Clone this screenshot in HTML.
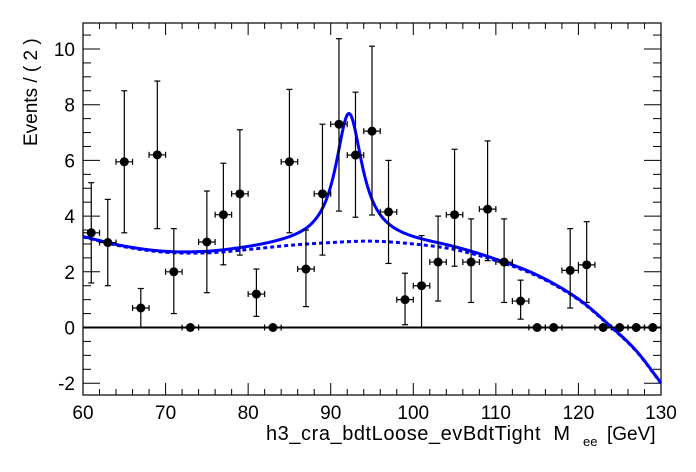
<!DOCTYPE html>
<html><head><meta charset="utf-8"><style>
html,body{margin:0;padding:0;background:#fff;}
svg{display:block;font-family:"Liberation Sans",Arial,sans-serif;}
</style></head><body>
<svg id="s" width="696" height="472" xmlns="http://www.w3.org/2000/svg">
<rect width="696" height="472" fill="#fff"/>
<g id="g"></g>
<text x="0" y="0" font-size="19" transform="translate(37,146) rotate(-90)">Events / ( 2 )</text>
<text x="266" y="440" font-size="20" textLength="304" lengthAdjust="spacing">h3_cra_bdtLoose_evBdtTight&#160;&#160;M</text>
<text x="583" y="446" font-size="13">ee</text>
<text x="607" y="440" font-size="19">[GeV]</text>
</svg>
<script>
var L=83,R=661,T=23,B=395;
function X(v){return L+(v-60)*(R-L)/70;}
function Y(v){return 327.5-v*27.85;}
var h='';
h+='<rect x="'+L+'" y="'+T+'" width="'+(R-L)+'" height="'+(B-T)+'" fill="none" stroke="#000" stroke-width="1.2"/>';
for(var v=60;v<=130;v+=2){var maj=(v%10==0);var l=maj?12:6;
h+='<line x1="'+X(v)+'" y1="'+B+'" x2="'+X(v)+'" y2="'+(B-l)+'" stroke="#000"/>';
h+='<line x1="'+X(v)+'" y1="'+T+'" x2="'+X(v)+'" y2="'+(T+l)+'" stroke="#000"/>';
if(maj)h+='<text x="'+X(v)+'" y="419" font-size="19" text-anchor="middle">'+v+'</text>';}
for(var k=-4;k<=21;k++){var v=k*0.5;var maj=(k%4==0);var l=maj?17:8;
h+='<line x1="'+L+'" y1="'+Y(v)+'" x2="'+(L+l)+'" y2="'+Y(v)+'" stroke="#000"/>';
h+='<line x1="'+R+'" y1="'+Y(v)+'" x2="'+(R-l)+'" y2="'+Y(v)+'" stroke="#000"/>';
if(maj)h+='<text x="75" y="'+(Y(v)+7)+'" font-size="19" text-anchor="end">'+v+'</text>';}
h+='<line x1="'+L+'" y1="'+Y(0)+'" x2="'+R+'" y2="'+Y(0)+'" stroke="#000" stroke-width="2"/>';
var d=[[61,3.4,1.6,5.2],[63,3.05,1.5,4.6],[65,5.95,3.4,8.5],[67,0.7,0,1.4],[69,6.2,3.55,8.85],[71,2.0,0.5,3.55],[73,0,0,0],[75,3.07,1.25,4.9],[77,4.05,2.25,5.9],[79,4.8,2.6,7.1],[81,1.2,0.4,2.1],[83,0,0,0],[85,5.95,3.4,8.55],[87,2.1,0.75,3.5],[89,4.8,2.6,7.3],[91,7.3,4.18,10.37],[93,6.19,3.96,8.45],[95,7.05,4.04,10.1],[97,4.15,2.3,6.0],[99,1.0,0.1,1.95],[101,1.5,0,3.3],[103,2.35,0.95,4.0],[105,4.05,2.2,6.4],[107,2.35,0.9,3.9],[109,4.25,2.4,6.7],[111,2.35,0.9,3.9],[113,0.95,0.3,1.7],[115,0,0,0],[117,0,0,0],[119,2.05,0.7,3.55],[121,2.25,0.9,3.8],[123,0,0,0],[125,0,0,0],[127,0,0,0],[129,0,0,0]];
var bp=[[60,3.25],[65,2.9],[70,2.7],[75,2.68],[80,2.8],[85,2.95],[90,3.05],[95,3.1],[100,3.0],[105,2.8],[110,2.4],[115,1.85],[120,1.0],[124,0],[127,-0.85],[130,-2.0]];
function bk(x){for(var i=0;i<bp.length-1;i++){if(x<=bp[i+1][0]){var p0=bp[Math.max(i-1,0)],p1=bp[i],p2=bp[i+1],p3=bp[Math.min(i+2,bp.length-1)];var t=(x-p1[0])/(p2[0]-p1[0]);
var m1=(p2[1]-p0[1])/(p2[0]-p0[0])*(p2[0]-p1[0]),m2=(p3[1]-p1[1])/(p3[0]-p1[0])*(p2[0]-p1[0]);
var t2=t*t,t3=t2*t;return (2*t3-3*t2+1)*p1[1]+(t3-2*t2+t)*m1+(-2*t3+3*t2)*p2[1]+(t3-t2)*m2;}}return bp[bp.length-1][1];}
var pb='',ps='';
for(var x=60;x<=130.001;x+=0.1){var b=bk(x);var dd=(x-92.2)/1.95;var s=b+4.6/(1+dd*dd);
pb+=(pb?'L':'M')+X(x).toFixed(2)+','+Y(b).toFixed(2);ps+=(ps?'L':'M')+X(x).toFixed(2)+','+Y(s).toFixed(2);}
h+='<path d="'+pb+'" fill="none" stroke="#0000ff" stroke-width="3" stroke-dasharray="4,3"/>';
h+='<path d="'+ps+'" fill="none" stroke="#0000ff" stroke-width="3"/>';
for(var i=0;i<d.length;i++){var p=d[i];var cx=X(p[0]),cy=Y(p[1]);
h+='<line x1="'+X(p[0]-1)+'" y1="'+cy+'" x2="'+X(p[0]+1)+'" y2="'+cy+'" stroke="#000" stroke-width="1.2"/>';
h+='<line x1="'+X(p[0]-1)+'" y1="'+(cy-3)+'" x2="'+X(p[0]-1)+'" y2="'+(cy+3)+'" stroke="#000" stroke-width="1.2"/>';
h+='<line x1="'+X(p[0]+1)+'" y1="'+(cy-3)+'" x2="'+X(p[0]+1)+'" y2="'+(cy+3)+'" stroke="#000" stroke-width="1.2"/>';
if(p[3]>p[2]){h+='<line x1="'+cx+'" y1="'+Y(p[2])+'" x2="'+cx+'" y2="'+Y(p[3])+'" stroke="#000" stroke-width="1.2"/>';
h+='<line x1="'+(cx-3)+'" y1="'+Y(p[3])+'" x2="'+(cx+3)+'" y2="'+Y(p[3])+'" stroke="#000" stroke-width="1.2"/>';
if(p[2]>0)h+='<line x1="'+(cx-3)+'" y1="'+Y(p[2])+'" x2="'+(cx+3)+'" y2="'+Y(p[2])+'" stroke="#000" stroke-width="1.2"/>';}
h+='<circle cx="'+cx+'" cy="'+cy+'" r="4.5" fill="#000"/>';}
document.getElementById('g').innerHTML=h;
</script>
</body></html>
